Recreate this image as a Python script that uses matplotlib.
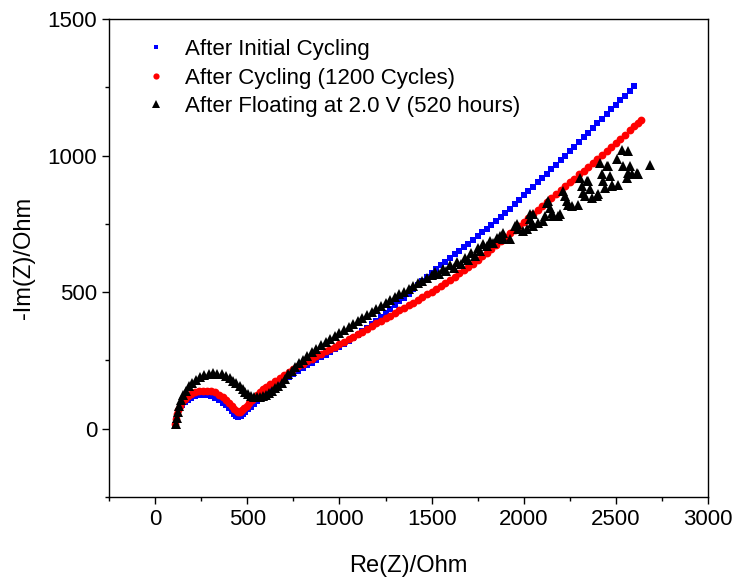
import matplotlib
matplotlib.use("Agg")
import matplotlib.pyplot as plt
from matplotlib.ticker import MultipleLocator

plt.rcParams['font.family'] = ['Liberation Sans', 'DejaVu Sans']

# After Initial Cycling (blue squares)
blue_re = [108, 112, 118, 126, 136, 148, 162, 178, 196, 216, 238, 260, 282, 304, 326, 348, 368, 386,
           402, 416, 428, 440, 452, 464, 476, 490, 504, 520, 536, 552, 568, 584,
           600, 625, 650, 675, 700, 725, 750, 775, 800, 825, 850, 875, 900, 925, 950, 975,
           1000, 1025, 1050, 1075, 1100, 1125, 1150, 1175, 1200, 1225, 1250, 1275, 1300, 1325, 1350, 1375,
           1400, 1425, 1450, 1475, 1500, 1525, 1550, 1575, 1600, 1625, 1650, 1675, 1700, 1725, 1750, 1775,
           1800, 1825, 1850, 1875, 1900, 1925, 1950, 1975, 2000, 2025, 2050, 2075, 2100, 2125, 2150, 2175,
           2200, 2225, 2250, 2275, 2300, 2325, 2350, 2375, 2400, 2425, 2450, 2475, 2500, 2525, 2550, 2575, 2598]
blue_im = [15, 32, 48, 62, 76, 88, 98, 107, 114, 119, 122, 123, 122, 119, 113, 105, 96, 86,
           75, 64, 54, 46, 42, 46, 53, 62, 71, 81, 91, 101, 110, 119,
           128, 141, 154, 166, 178, 190, 201, 212, 222, 232, 242, 252, 262, 271, 281, 291,
           301, 312, 323, 334, 345, 357, 369, 382, 396, 410, 424, 438, 452, 466, 480, 495,
           510, 525, 540, 555, 570, 584, 598, 612, 626, 639, 652, 665, 678, 691, 705, 719,
           733, 747, 761, 776, 791, 806, 822, 838, 854, 870, 886, 902, 918, 934, 950, 966,
           983, 1000, 1016, 1033, 1050, 1067, 1084, 1101, 1118, 1135, 1152, 1169, 1186, 1203, 1220, 1238, 1255]

# After Cycling (1200 Cycles) (red circles)
red_re = [108, 112, 118, 126, 136, 148, 162, 178, 196, 216, 238, 260, 282, 304, 326, 348, 368, 386,
          402, 416, 430, 442, 452, 461, 472, 484, 496, 510, 524, 538, 552, 568, 584,
          600, 625, 650, 675, 700, 725, 750, 775, 800, 825, 850, 875, 900, 925, 950, 975,
          1000, 1025, 1050, 1075, 1100, 1125, 1150, 1175, 1200, 1225, 1250, 1275, 1300, 1325, 1350, 1375,
          1400, 1425, 1450, 1475, 1500, 1525, 1550, 1575, 1600, 1625, 1650, 1675, 1700, 1725, 1750, 1775,
          1800, 1825, 1850, 1875, 1900, 1925, 1950, 1975, 2000, 2025, 2050, 2075, 2100, 2125, 2150, 2175,
          2200, 2225, 2250, 2275, 2300, 2325, 2350, 2375, 2400, 2425, 2450, 2475, 2500, 2525, 2550, 2575,
          2600, 2620, 2636]
red_im = [18, 36, 54, 70, 84, 97, 109, 119, 127, 134, 138, 140, 140, 138, 133, 125, 115, 104,
          93, 83, 73, 66, 62, 61, 67, 75, 84, 94, 104, 114, 124, 134, 144,
          154, 165, 176, 187, 198, 208, 218, 228, 238, 247, 256, 265, 274, 283, 292, 301,
          310, 319, 328, 337, 346, 356, 366, 376, 386, 395, 404, 414, 424, 433, 443, 452,
          462, 472, 482, 492, 502, 512, 523, 534, 545, 557, 569, 581, 593, 605, 618, 631,
          645, 659, 673, 687, 701, 715, 729, 743, 757, 771, 786, 800, 815, 829, 844, 858,
          873, 887, 902, 916, 931, 945, 960, 974, 989, 1003, 1018, 1032, 1047, 1062, 1077, 1092,
          1107, 1119, 1131]

# After Floating at 2.0 V (520 hours) (black triangles)
black_re = [112, 116, 122, 130, 140, 152, 166, 182, 200, 220, 242, 266, 290, 314, 338, 362, 384, 404,
            422, 440, 458, 474, 490, 506, 522, 538, 554, 570, 586, 602, 618, 634, 650, 668, 686, 704,
            722, 740, 760, 780, 800, 825, 850, 875, 900, 925, 950, 975, 1000, 1025, 1050, 1075,
            1100, 1125, 1150, 1175, 1200, 1225, 1250, 1275, 1300, 1325, 1350, 1375, 1400, 1425, 1450, 1475,
            1500, 1520, 1540, 1560, 1580, 1600, 1620, 1640, 1660, 1680, 1700, 1715, 1735, 1750, 1765,
            1781, 1800, 1817, 1835, 1855, 1872, 1881, 1890, 1890, 1926, 1953, 1962, 1971, 1998, 2016,
            2034, 2034, 2043, 2052, 2052, 2080, 2107, 2116, 2125, 2134, 2143, 2152, 2161, 2188, 2197,
            2215, 2224, 2233, 2242, 2260, 2297, 2306, 2315, 2324, 2333, 2342, 2351, 2360, 2369, 2396,
            2405, 2414, 2423, 2432, 2441, 2450, 2459, 2468, 2477, 2477, 2505, 2514, 2532, 2541, 2559,
            2568, 2568, 2577, 2586, 2613, 2622, 2685]
black_im = [18, 40, 62, 84, 104, 122, 140, 155, 168, 180, 190, 197, 201, 203, 202, 199, 193, 185,
            176, 166, 155, 145, 136, 128, 121, 117, 115, 116, 119, 124, 131, 139, 148, 158, 169, 181,
            200, 213, 226, 239, 251, 266, 280, 293, 306, 318, 330, 341, 352, 363, 374, 385,
            396, 407, 418, 429, 440, 451, 462, 472, 482, 492, 502, 512, 522, 532, 542, 552,
            562, 574, 568, 585, 578, 598, 590, 610, 602, 626, 618, 642, 634, 660, 652,
            675, 668, 687, 680, 700, 706, 706, 718, 694, 694, 742, 748, 730, 724, 730,
            767, 785, 754, 742, 785, 754, 760, 779, 827, 833, 809, 791, 779, 779, 785,
            870, 852, 833, 821, 815, 821, 919, 888, 864, 852, 906, 906, 876, 846, 852,
            858, 973, 931, 906, 882, 961, 961, 925, 894, 888, 986, 894, 1022, 961, 919,
            1016, 937, 961, 931, 937, 931, 967]

fig = plt.figure(figsize=(7.37, 5.8), dpi=100)
ax = fig.add_axes([0.148, 0.143, 0.8127, 0.8242])

ax.plot(blue_re, blue_im, 's', color='#0000ff', markersize=4.3, markeredgewidth=0,
        label='After Initial Cycling')
ax.plot(red_re, red_im, 'o', color='#ff0000', markersize=5.6, markeredgewidth=0,
        label='After Cycling (1200 Cycles)')
ax.plot(black_re, black_im, '^', color='black', markersize=6.8, markeredgewidth=0,
        label='After Floating at 2.0 V (520 hours)')

ax.set_xlim(-250, 3000)
ax.set_ylim(-250, 1500)
ax.xaxis.set_major_locator(MultipleLocator(500))
ax.xaxis.set_minor_locator(MultipleLocator(250))
ax.yaxis.set_major_locator(MultipleLocator(500))
ax.yaxis.set_minor_locator(MultipleLocator(250))
ax.tick_params(which='major', direction='out', length=5, width=1, labelsize=16)
ax.tick_params(which='minor', direction='out', length=3, width=1)
for s in ax.spines.values():
    s.set_linewidth(1.0)

ax.set_xlabel('Re(Z)/Ohm', fontsize=17, labelpad=18)
ax.set_ylabel('-Im(Z)/Ohm', fontsize=17, labelpad=9)

ax.legend(loc='upper left', bbox_to_anchor=(0.022, 1.0), frameon=False, fontsize=16,
          handlelength=1.2, handletextpad=0.72, labelspacing=0.34, markerscale=0.8)

fig.savefig('out.png', dpi=100)
